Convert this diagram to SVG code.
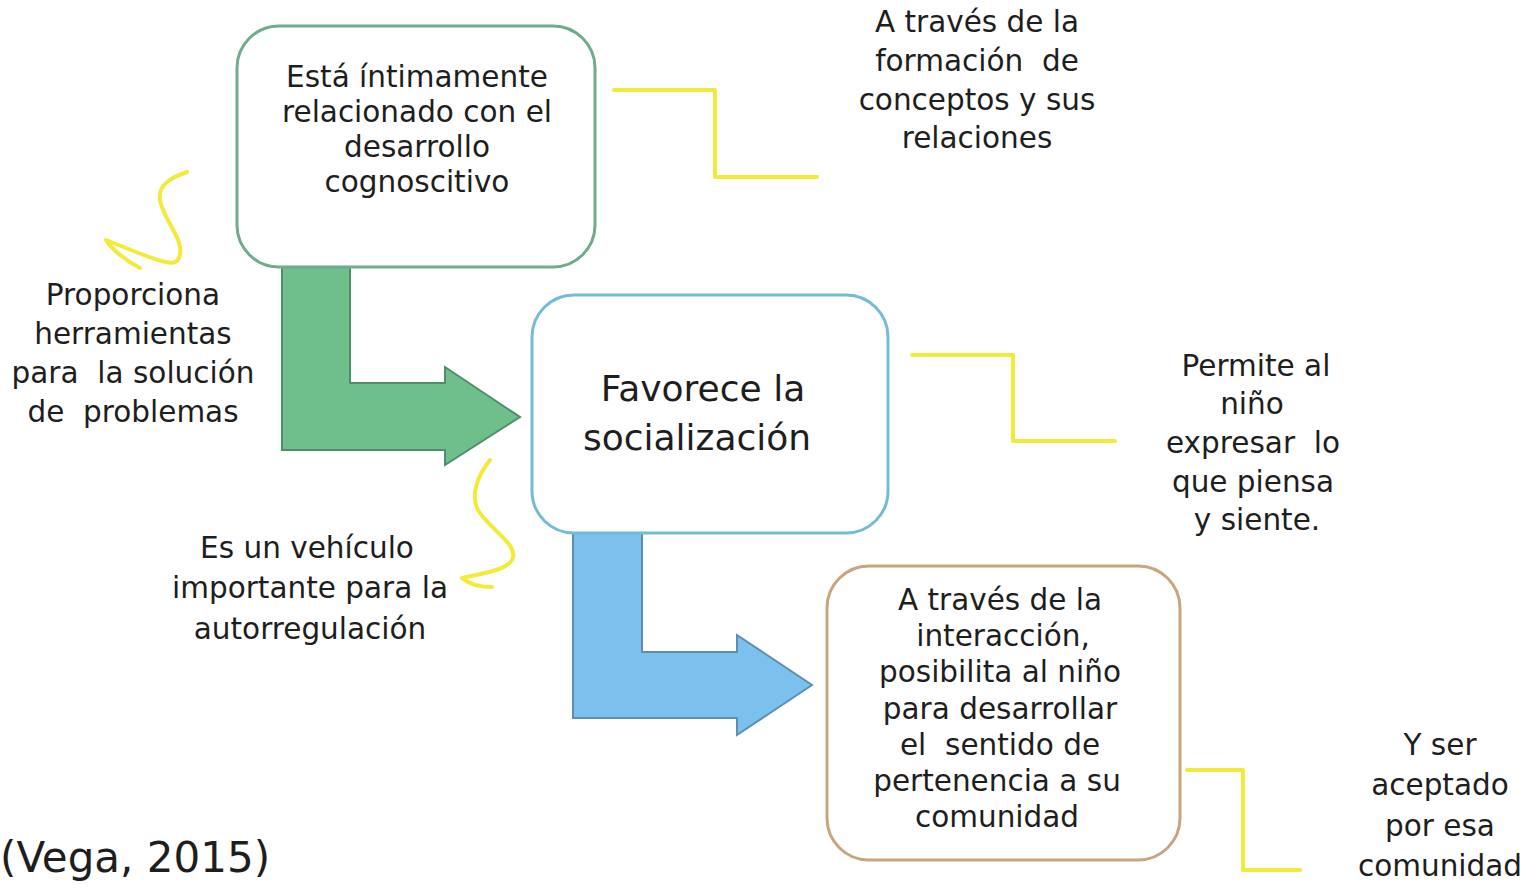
<svg xmlns="http://www.w3.org/2000/svg" width="1538" height="889" viewBox="0 0 1538 889">
<style>
text{font-family:"DejaVu Sans","Noto Sans",sans-serif;fill:#1e1e1e;text-anchor:middle;white-space:pre}
.t{font-size:29.5px}
.b{font-size:36px}
.box{fill:#fff;stroke-width:3}
.y{fill:none;stroke:#f3ea3a;stroke-width:4;stroke-linecap:round;stroke-linejoin:round}
</style>
<rect width="1538" height="889" fill="#fff"/>
<g id="connectors">
<path class="y" d="M614,90 H715 V177 H817"/>
<path class="y" d="M912,355 H1013 V441 H1115"/>
<path class="y" d="M1187,770 H1243 V870 H1300"/>
<path class="y" d="M187,172 C170,178 158,185 160,200 C163,220 186,240 179,258 C175,268 160,262 106,240 C112,250 128,262 140,268"/>
<path class="y" d="M490,460 C478,475 470,495 478,510 C490,530 520,545 512,560 C505,572 472,575 462,578 C470,585 480,587 492,587"/>
<path id="arrow-green" d="M282,267 H350 V383 H445 V367 L520,417 L445,465 V450 H282 Z" fill="#6fbf8c" stroke="#4f8f68" stroke-width="2"/>
<path id="arrow-blue" d="M573,533 H642 V652 H737 V635 L812,685 L737,735 V718 H573 Z" fill="#7cc1ee" stroke="#5a8fb3" stroke-width="2"/>
</g>
<g id="node1">
<rect class="box" x="237" y="26" width="358" height="241" rx="42" stroke="#6fac8e"/>
<text class="t"><tspan x="417" y="87">Está íntimamente</tspan><tspan x="417" y="122">relacionado con el</tspan><tspan x="417" y="157">desarrollo</tspan><tspan x="417" y="192">cognoscitivo</tspan></text>
</g>
<g id="node2">
<rect class="box" x="532" y="295" width="356" height="238" rx="42" stroke="#72bdd4"/>
<text class="b"><tspan x="703" y="401">Favorece la</tspan><tspan x="697" y="450">socialización</tspan></text>
</g>
<g id="node3">
<rect class="box" x="827" y="566" width="353" height="294" rx="42" stroke="#c9a57f"/>
<text class="t"><tspan x="1000" y="610">A través de la</tspan><tspan x="1003" y="646">interacción,</tspan><tspan x="1000" y="682">posibilita al niño</tspan><tspan x="1000" y="719">para desarrollar</tspan><tspan x="1000" y="755">el  sentido de</tspan><tspan x="997" y="791">pertenencia a su</tspan><tspan x="997" y="827">comunidad</tspan></text>
</g>
<g id="note-top">
<text class="t"><tspan x="977" y="32">A través de la</tspan><tspan x="977" y="71">formación  de</tspan><tspan x="977" y="110">conceptos y sus</tspan><tspan x="977" y="148">relaciones</tspan></text>
</g>
<g id="note-left">
<text class="t"><tspan x="133" y="305">Proporciona</tspan><tspan x="133" y="344">herramientas</tspan><tspan x="133" y="383">para  la solución</tspan><tspan x="133" y="422">de  problemas</tspan></text>
</g>
<g id="note-right">
<text class="t"><tspan x="1256" y="376">Permite al</tspan><tspan x="1252" y="414">niño</tspan><tspan x="1253" y="453">expresar  lo</tspan><tspan x="1253" y="492">que piensa</tspan><tspan x="1257" y="530">y siente.</tspan></text>
</g>
<g id="note-lower-left">
<text class="t"><tspan x="307" y="558">Es un vehículo</tspan><tspan x="310" y="598">importante para la</tspan><tspan x="310" y="639">autorregulación</tspan></text>
</g>
<g id="note-bottom-right">
<text class="t"><tspan x="1440" y="755">Y ser</tspan><tspan x="1440" y="795">aceptado</tspan><tspan x="1440" y="836">por esa</tspan><tspan x="1440" y="876">comunidad</tspan></text>
</g>
<g id="citation">
<text style="font-size:42px;text-anchor:start" x="0" y="872">(Vega, 2015)</text>
</g>
</svg>
